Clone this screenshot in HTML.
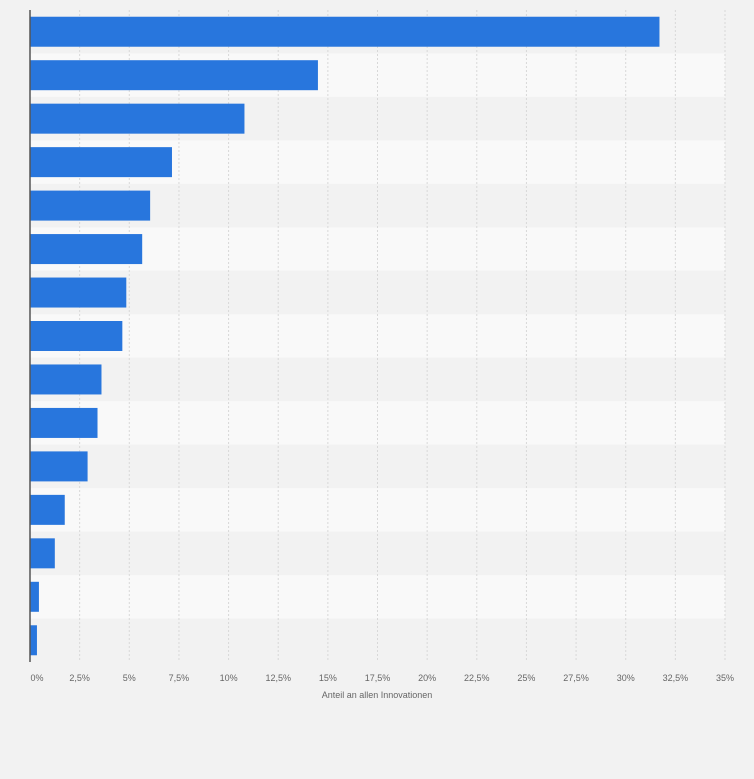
<!DOCTYPE html>
<html><head><meta charset="utf-8"><style>
html,body{margin:0;padding:0;background:#f2f2f2;}
svg{display:block;font-family:"Liberation Sans",sans-serif;}
</style></head><body>
<svg id="chart" width="754" height="779"></svg>
<script>
const categories=["c1","c2","c3","c4","c5","c6","c7","c8","c9","c10","c11","c12","c13","c14","c15"];
const values=[31.7,14.5,10.8,7.15,6.05,5.65,4.85,4.65,3.6,3.4,2.9,1.75,1.25,0.45,0.35];
const ticks=[0,2.5,5,7.5,10,12.5,15,17.5,20,22.5,25,27.5,30,32.5,35];
const tickLabels=["0%","2,5%","5%","7,5%","10%","12,5%","15%","17,5%","20%","22,5%","25%","27,5%","30%","32,5%","35%"];
const NS="http://www.w3.org/2000/svg";
const svgEl=document.getElementById('chart');
const X0=30,X1=725,plotTop=10,plotBottom=662,xmax=35;
const xs=v=>X0+(X1-X0)*v/xmax;
const band=(plotBottom-plotTop)/categories.length;
const ys=i=>plotTop+band*i;
function mk(t,a){const e=document.createElementNS(NS,t);for(const k in a)e.setAttribute(k,a[k]);svgEl.appendChild(e);return e;}
categories.forEach((c,i)=>{
  const r=mk('rect',{x:X0,y:ys(i),width:X1-X0,height:band,fill:i%2?'#f9f9f9':'#f2f2f2'});
  
  
});
ticks.forEach((t,i)=>{
  if(i>0){const g=mk('line',{x1:xs(t),x2:xs(t),y1:plotTop,y2:plotBottom,stroke:'#d8d8d8','stroke-dasharray':'2,2','stroke-width':1});
  
  }
  const tx=mk('text',{x:xs(t)+(i==0?7:0),y:681,'text-anchor':'middle','font-size':9,fill:'#666'});
  tx.textContent=tickLabels[i];
  
  
});
values.forEach((v,i)=>{
  const b=mk('rect',{x:X0,y:ys(i)+band/2-15,width:xs(v)-X0,height:30,fill:'#2876dd'});
  
  
});
const ax=mk('line',{x1:X0,x2:X0,y1:plotTop,y2:plotBottom,stroke:'#555','stroke-width':1.5});


const tt=mk('text',{x:377,y:698,'text-anchor':'middle','font-size':9,fill:'#666'});
tt.textContent='Anteil an allen Innovationen';


</script>
</body></html>
